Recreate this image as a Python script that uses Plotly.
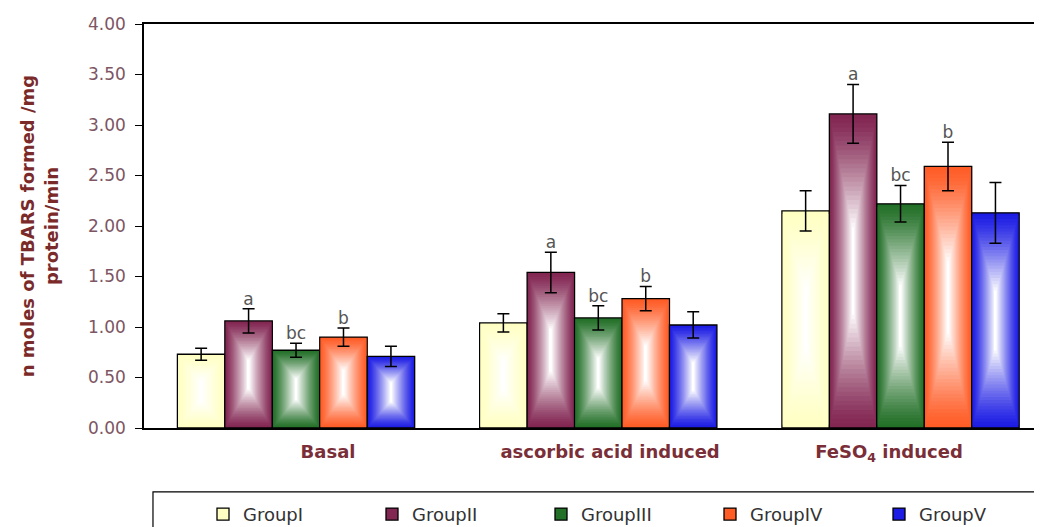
import plotly.graph_objects as go

categories = ["Basal", "ascorbic acid induced", "FeSO<sub>4</sub> induced"]
groups = ["GroupI", "GroupII", "GroupIII", "GroupIV", "GroupV"]

group1 = [0.73, 1.04, 2.15]
group2 = [1.06, 1.54, 3.11]
group3 = [0.77, 1.09, 2.22]
group4 = [0.90, 1.28, 2.59]
group5 = [0.71, 1.02, 2.13]

err1 = [0.06, 0.09, 0.20]
err2 = [0.12, 0.20, 0.29]
err3 = [0.07, 0.12, 0.18]
err4 = [0.09, 0.12, 0.24]
err5 = [0.10, 0.13, 0.30]

letters1 = ["", "", ""]
letters2 = ["a", "a", "a"]
letters3 = ["bc", "bc", "bc"]
letters4 = ["b", "b", "b"]
letters5 = ["", "", ""]

values = [group1, group2, group3, group4, group5]
errors = [err1, err2, err3, err4, err5]
letters = [letters1, letters2, letters3, letters4, letters5]
edge_colors = [(255, 255, 195), (130, 38, 82), (35, 112, 40), (255, 92, 38), (28, 28, 228)]

BW = 0.157
N = 26
FONT = "DejaVu Sans, Verdana, sans-serif"
# the reference's category labels sit slightly off the bar-group centres
LABEL_SHIFT = [0.106, 0.039, -0.038]


def mix(c, s):
    r, g, b = (int(round(ch + (255 - ch) * s)) for ch in c)
    return f"rgb({r},{g},{b})"


fig = go.Figure()
for gi, (name, vals) in enumerate(zip(groups, values)):
    xs = [i + (gi - 2) * BW for i in range(len(categories))]
    for k in range(N):
        t = k / N
        hfrac = 1 - t
        vfrac = 1 - 0.75 * t
        heights = [v * vfrac for v in vals]
        bases = [v * (1 - vfrac) / 2 for v in vals]
        s = min(1.0, (k / (N - 1)) ** 1.25)
        fig.add_trace(go.Bar(
            x=xs, y=heights, base=bases, width=BW * hfrac,
            name=name, legendgroup=name, showlegend=(k == 0),
            marker=dict(color=mix(edge_colors[gi], s),
                        line=dict(color="black", width=1.3 if k == 0 else 0)),
            hoverinfo="skip",
        ))

for gi in range(len(groups)):
    xs = [i + (gi - 2) * BW for i in range(len(categories))]
    lx, ly, lt = [], [], []
    for x, v, e, lab in zip(xs, values[gi], errors[gi], letters[gi]):
        if lab:
            lx.append(x)
            ly.append(v + e)
            lt.append(lab)
    if lt:
        fig.add_trace(go.Scatter(
            x=lx, y=ly, mode="text", text=lt, textposition="top center",
            textfont=dict(size=17, color="#555555", family=FONT),
            showlegend=False, hoverinfo="skip",
        ))
    fig.add_trace(go.Scatter(
        x=xs, y=values[gi], mode="markers",
        marker=dict(size=1, color="rgba(0,0,0,0)"),
        error_y=dict(type="data", array=errors[gi], color="black", thickness=1.5, width=6),
        showlegend=False, hoverinfo="skip",
    ))

# legend frame (extends past the right/bottom edge like the reference)
fig.add_shape(type="rect", xref="paper", yref="paper",
              x0=0.010, x1=1.05, y0=-0.40, y1=-0.158,
              line=dict(color="black", width=1.2), fillcolor="rgba(0,0,0,0)")

fig.update_layout(
    width=1034, height=519,
    barmode="overlay",
    plot_bgcolor="white", paper_bgcolor="white",
    font=dict(family=FONT),
    margin=dict(l=136, r=0, t=16, b=99, autoexpand=False),
    xaxis=dict(
        range=[-0.503, 2.468],
        tickvals=[i + d for i, d in enumerate(LABEL_SHIFT)],
        ticktext=[f"<b>{c}</b>" for c in categories],
        tickfont=dict(size=18, color="#7a2e38", family=FONT),
        showline=True, linecolor="black", linewidth=1.5, mirror=True,
        ticks="", showgrid=False, zeroline=False, ticklabelstandoff=7,
    ),
    yaxis=dict(
        range=[0, 4], dtick=0.5, tickformat=".2f",
        tickfont=dict(size=17, color="#7d5563", family=FONT),
        showline=True, linecolor="black", linewidth=1.5,
        ticks="outside", ticklen=7, tickcolor="black", ticklabelstandoff=6,
        showgrid=False, zeroline=False,
        title=dict(text="<b>n moles of TBARS formed /mg<br>protein/min</b>",
                   font=dict(size=18, color="#7b2a2a", family=FONT), standoff=25),
    ),
    legend=dict(
        orientation="h", x=0.0657, y=-0.168, xanchor="left", yanchor="top",
        borderwidth=0, entrywidth=124, bgcolor="rgba(0,0,0,0)",
        font=dict(size=18, color="#333333", family=FONT),
        traceorder="normal",
    ),
)

fig.write_html("out.html")
